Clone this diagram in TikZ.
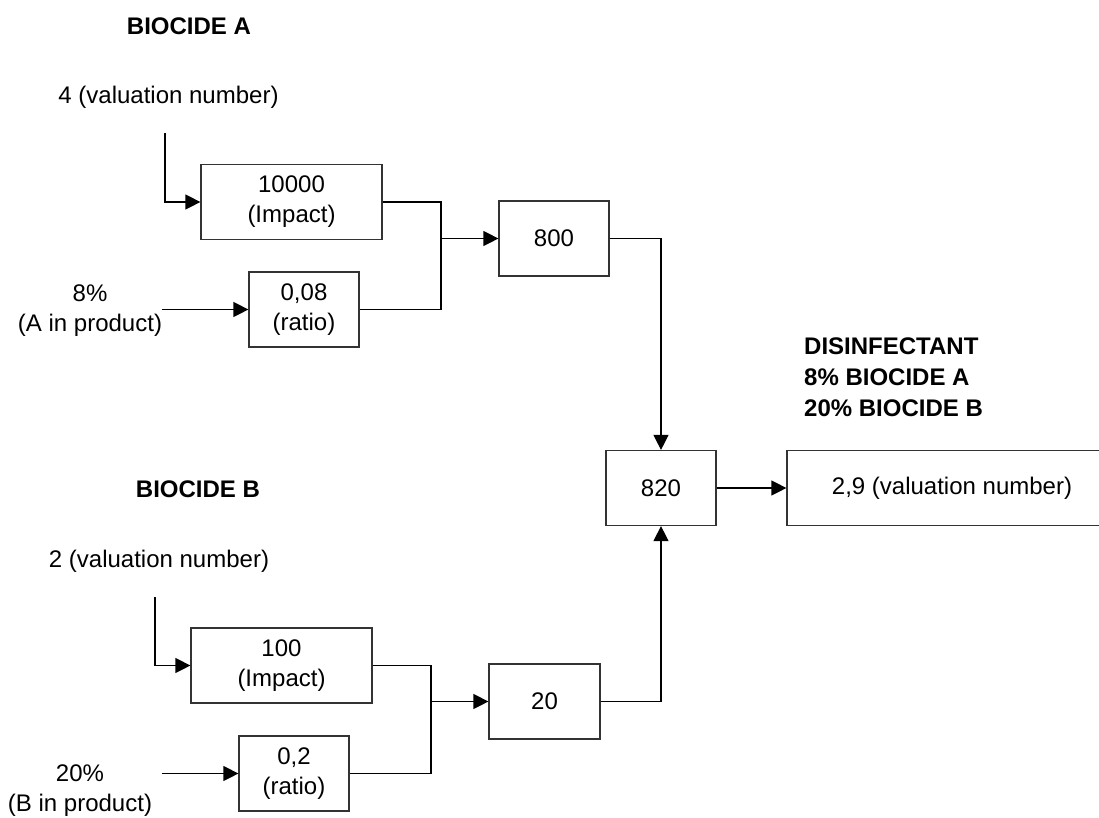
\documentclass[tikz,border=0pt]{standalone}
\usepackage{fontspec}
\setmainfont{Liberation Sans}
\usetikzlibrary{arrows.meta}
\begin{document}
\begin{tikzpicture}[x=1pt,y=-1pt,
  box/.style={draw=black!80, line width=1.2pt, minimum width=#1, minimum height=75pt, inner sep=0pt, align=center, font=\fontsize{24}{30}\selectfont},
  lbl/.style={inner sep=0pt, align=center, font=\fontsize{24}{30}\selectfont},
  ttl/.style={inner sep=0pt, align=left, font=\bfseries\fontsize{24}{31}\selectfont},
  wire/.style={line width=1.2pt, black},
  arr/.style={wire, -{Triangle[length=15pt,width=15pt]}},
]
\useasboundingbox (0,0) rectangle (1099,817);

% boxes
\node[box=181] (imA) at (291.5,202) {10000\\(Impact)};
\node[box=110] (raA) at (304,309.5) {0,08\\(ratio)};
\node[box=110] (n800) at (554,238.5) {800};
\node[box=110] (n820) at (661,488) {820};
\node[box=330] (n29) at (952,488) {2,9 (valuation number)};
\node[box=181] (imB) at (281.5,665.5) {100\\(Impact)};
\node[box=110] (raB) at (294,773.5) {0,2\\(ratio)};
\node[box=111] (n20) at (544.5,701.5) {20};

% labels
\node[ttl] (tA) at (189,26) {BIOCIDE A};
\node[lbl] (vA) at (168.5,97) {4 (valuation number)};
\node[lbl] (pA) at (90,311) {8\%\\(A in product)};
\node[ttl] (tB) at (198,489) {BIOCIDE B};
\node[lbl] (vB) at (159,561) {2 (valuation number)};
\node[lbl] (pB) at (80,791) {20\%\\(B in product)};
\node[ttl, anchor=west] (dis) at (804,377) {DISINFECTANT\\8\% BIOCIDE A\\20\% BIOCIDE B};

% connector ends and junctions
\coordinate (sA) at (165,133);
\coordinate (iA) at (162,309.5);
\coordinate (jA) at (441,238.5);
\coordinate (sB) at (155,597);
\coordinate (iB) at (162,773.5);
\coordinate (jB) at (431,701.5);

% connectors A
\draw[arr] (sA) |- (imA.west);
\draw[arr] (iA) -- (raA.west);
\draw[wire] (imA.east) -| (jA) |- (raA.east);
\draw[arr] (jA) -- (n800.west);
\draw[arr] (n800.east) -| (n820.north);

% connectors B
\draw[arr] (sB) |- (imB.west);
\draw[arr] (iB) -- (raB.west);
\draw[wire] (imB.east) -| (jB) |- (raB.east);
\draw[arr] (jB) -- (n20.west);
\draw[arr] (n20.east) -| (n820.south);

% output
\draw[arr] (n820.east) -- (n29.west);
\end{tikzpicture}
\end{document}
